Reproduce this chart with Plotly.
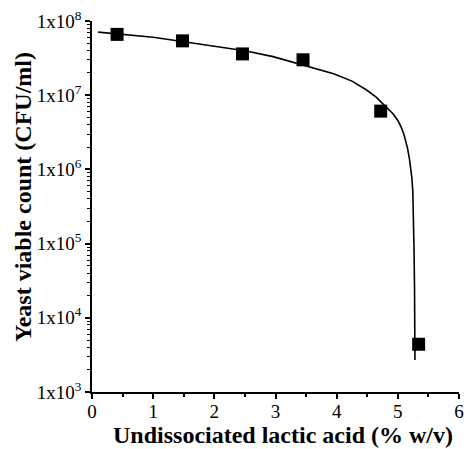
import plotly.graph_objects as go

# Observed data (markers)
acid_obs = [0.41, 1.48, 2.46, 3.45, 4.72, 5.34]
count_obs = [6.6e7, 5.4e7, 3.6e7, 3.0e7, 6.1e6, 4.4e3]

# Fitted curve
acid_fit = [0.10, 0.50, 1.00, 1.50, 2.00, 2.50, 2.96, 3.50, 3.95, 4.25, 4.49, 4.65, 4.81,
            4.92, 5.00, 5.05, 5.10, 5.13, 5.16, 5.19, 5.21, 5.23, 5.245, 5.255, 5.265, 5.273, 5.28]
log_fit = [7.85, 7.82, 7.78, 7.72, 7.66, 7.60, 7.52, 7.40, 7.29, 7.19, 7.07, 6.97, 6.84,
           6.75, 6.66, 6.58, 6.47, 6.39, 6.28, 6.14, 6.02, 5.88, 5.70, 5.40, 4.90, 4.40, 3.43]
count_fit = [10 ** v for v in log_fit]

ytick_vals = [1e3, 1e4, 1e5, 1e6, 1e7, 1e8]
ytick_text = ["1x10<sup>3</sup>", "1x10<sup>4</sup>", "1x10<sup>5</sup>",
              "1x10<sup>6</sup>", "1x10<sup>7</sup>", "1x10<sup>8</sup>"]
ytick_minor = [m * d for d in [1e3, 1e4, 1e5, 1e6, 1e7] for m in range(2, 10)]
xtick_vals = [0, 1, 2, 3, 4, 5, 6]

x_title = "Undissociated lactic acid (% w/v)"
y_title = "Yeast viable count (CFU/ml)"

fig = go.Figure()
fig.add_trace(go.Scatter(x=acid_fit, y=count_fit, mode="lines",
                         line=dict(color="black", width=1.6), showlegend=False))
fig.add_trace(go.Scatter(x=acid_obs, y=count_obs, mode="markers",
                         marker=dict(symbol="square", size=13, color="black"),
                         showlegend=False))

font_family = "Liberation Serif, Times New Roman, serif"
fig.update_layout(
    width=470, height=449,
    margin=dict(l=92, r=6, t=21, b=57),
    plot_bgcolor="white", paper_bgcolor="white",
    font=dict(family=font_family, color="black", size=18),
    xaxis=dict(range=[0, 6], tickvals=xtick_vals, showline=True, linecolor="black",
               linewidth=1.5, ticks="outside", ticklen=5, tickwidth=1.5, tickcolor="black",
               showgrid=False, zeroline=False, tickfont=dict(size=19), ticklabelstandoff=-4,
               minor=dict(dtick=0.5, ticks="outside", ticklen=3, tickwidth=1.5, tickcolor="black", showgrid=False)),
    yaxis=dict(type="log", range=[3, 8], tickvals=ytick_vals, ticktext=ytick_text,
               showline=True, linecolor="black", linewidth=1.5, ticks="outside", ticklen=5,
               tickwidth=1.5, tickcolor="black", showgrid=False, zeroline=False,
               tickfont=dict(size=19),
               minor=dict(tickvals=ytick_minor, ticks="outside", ticklen=3, tickwidth=1,
                          tickcolor="black", showgrid=False)),
    annotations=[
        dict(text="<b>" + x_title + "</b>", xref="paper", yref="paper", x=0.5215, y=-0.1159,
             xanchor="center", yanchor="middle", showarrow=False, font=dict(size=24)),
        dict(text="<b>" + y_title + "</b>", xref="paper", yref="paper", x=-0.188, y=0.5256,
             xanchor="center", yanchor="middle", textangle=-90, showarrow=False, font=dict(size=24)),
    ],
)
fig.write_html("out.html")
